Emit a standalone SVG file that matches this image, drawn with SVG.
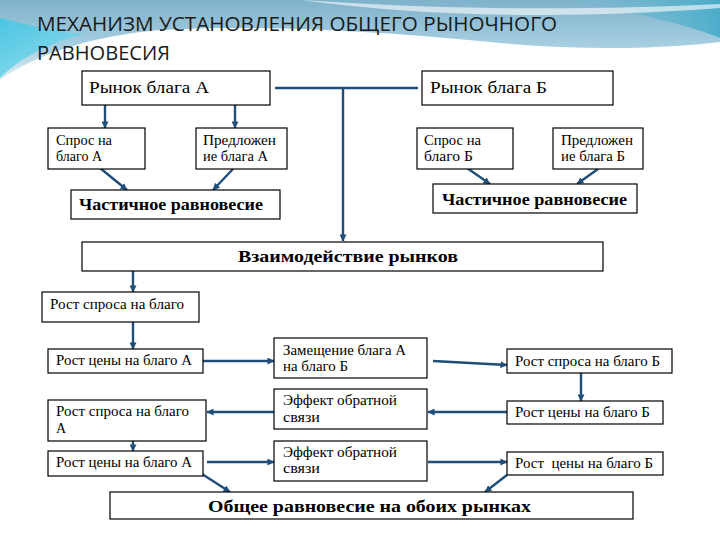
<svg xmlns="http://www.w3.org/2000/svg" width="720" height="540" viewBox="0 0 720 540">
  <defs>
    <linearGradient id="band" x1="0" y1="0" x2="0" y2="1">
      <stop offset="0" stop-color="#7fb2cb"/>
      <stop offset="0.6" stop-color="#a9d0e2"/>
      <stop offset="1" stop-color="#e2f0f6"/>
    </linearGradient>
    <linearGradient id="cyan" x1="0" y1="0" x2="1" y2="1">
      <stop offset="0" stop-color="#3fc6e4"/>
      <stop offset="1" stop-color="#8fdcef"/>
    </linearGradient>
    <linearGradient id="teal" x1="0" y1="0" x2="1" y2="0">
      <stop offset="0" stop-color="#7fc3d8" stop-opacity="0"/>
      <stop offset="1" stop-color="#3aa9c8"/>
    </linearGradient>
    <marker id="arr" viewBox="0 0 8 8" refX="7.5" refY="4" markerWidth="7" markerHeight="7" markerUnits="userSpaceOnUse" orient="auto">
      <path d="M0,0 L8,4 L0,8 Z" fill="#1f4e79"/>
    </marker>
    <style>
      .box { fill: #ffffff; stroke: #000000; stroke-width: 1.2; }
      .t { font-family: "Liberation Serif", "DejaVu Serif", serif; fill: #000; }
      .big { font-size: 17px; }
      .sm { font-size: 14px; }
      .b { font-weight: bold; font-size: 17px; }
      .title { font-family: "Open Sans", "Liberation Sans", sans-serif; font-size: 20px; fill: #1a1a1a; }
      .c line { stroke: #1f4e79; stroke-width: 2.4; fill: none; }
      .c .a { marker-end: url(#arr); }
    </style>
  </defs>

  <!-- background -->
  <rect x="0" y="0" width="720" height="540" fill="#ffffff"/>
  <path d="M0,0 H720 V42 C650,50 570,50 490,42 C390,32 260,24 160,30 C90,36 35,55 0,80 Z" fill="url(#band)"/>
  <path d="M0,18 C25,24 55,32 85,34 C50,42 20,58 0,78 Z" fill="url(#cyan)" opacity="0.85"/>
  <path d="M540,0 H720 V38 C680,22 620,8 540,0 Z" fill="url(#teal)" opacity="0.8"/>
  <path d="M300,0 C420,8 560,12 720,4 V8 C560,20 420,16 300,0 Z" fill="#ffffff" opacity="0.6"/>

  <!-- title -->
  <text class="title" x="37" y="31" textLength="520" lengthAdjust="spacingAndGlyphs">МЕХАНИЗМ УСТАНОВЛЕНИЯ ОБЩЕГО РЫНОЧНОГО</text>
  <text class="title" x="37" y="60" textLength="133" lengthAdjust="spacingAndGlyphs">РАВНОВЕСИЯ</text>

  <!-- connectors -->
  <g id="connectors" class="c">
    <line class="a" x1="105" y1="105" x2="105" y2="128"/>
    <line class="a" x1="235" y1="105" x2="235" y2="128"/>
    <line x1="275" y1="88" x2="418" y2="88"/>
    <line class="a" x1="343" y1="88" x2="343" y2="241"/>
    <line class="a" x1="100" y1="168" x2="127" y2="190"/>
    <line class="a" x1="233" y1="169" x2="213" y2="190"/>
    <line class="a" x1="467" y1="168" x2="490" y2="184"/>
    <line class="a" x1="598" y1="169" x2="577" y2="184"/>
    <line class="a" x1="133" y1="271" x2="133" y2="292"/>
    <line class="a" x1="133" y1="322" x2="133" y2="349"/>
    <line class="a" x1="203" y1="361" x2="274" y2="361"/>
    <line class="a" x1="433" y1="361" x2="507" y2="365"/>
    <line class="a" x1="581" y1="373" x2="581" y2="401"/>
    <line class="a" x1="507" y1="412" x2="428" y2="412"/>
    <line class="a" x1="274" y1="412" x2="207" y2="412"/>
    <line class="a" x1="133" y1="423" x2="133" y2="451"/>
    <line class="a" x1="207" y1="462" x2="274" y2="462"/>
    <line class="a" x1="428" y1="462" x2="507" y2="462"/>
    <line class="a" x1="202" y1="474" x2="230" y2="492"/>
    <line class="a" x1="507" y1="475" x2="485" y2="492"/>
  </g>

  <!-- nodes -->
  <g id="market-a">
    <rect class="box" x="82" y="71" width="188" height="34"/>
    <text class="t big" x="89" y="93" textLength="120" lengthAdjust="spacingAndGlyphs">Рынок блага А</text>
  </g>
  <g id="market-b">
    <rect class="box" x="422" y="71" width="191" height="34"/>
    <text class="t big" x="430" y="93" textLength="117" lengthAdjust="spacingAndGlyphs">Рынок блага Б</text>
  </g>
  <g id="demand-a">
    <rect class="box" x="48" y="128" width="97" height="41"/>
    <text class="t sm" x="56" y="145" textLength="56" lengthAdjust="spacingAndGlyphs">Спрос на</text>
    <text class="t sm" x="56" y="161" textLength="46" lengthAdjust="spacingAndGlyphs">благо А</text>
  </g>
  <g id="supply-a">
    <rect class="box" x="196" y="128" width="91" height="41"/>
    <text class="t sm" x="203" y="145" textLength="73" lengthAdjust="spacingAndGlyphs">Предложен</text>
    <text class="t sm" x="203" y="161" textLength="65" lengthAdjust="spacingAndGlyphs">ие блага А</text>
  </g>
  <g id="demand-b">
    <rect class="box" x="417" y="128" width="96" height="41"/>
    <text class="t sm" x="424" y="145" textLength="57" lengthAdjust="spacingAndGlyphs">Спрос на</text>
    <text class="t sm" x="424" y="161" textLength="49" lengthAdjust="spacingAndGlyphs">благо Б</text>
  </g>
  <g id="supply-b">
    <rect class="box" x="553" y="128" width="90" height="41"/>
    <text class="t sm" x="561" y="145" textLength="72" lengthAdjust="spacingAndGlyphs">Предложен</text>
    <text class="t sm" x="561" y="161" textLength="64" lengthAdjust="spacingAndGlyphs">ие блага Б</text>
  </g>
  <g id="partial-a">
    <rect class="box" x="71" y="190" width="209" height="29"/>
    <text class="t b" x="79" y="210" textLength="184" lengthAdjust="spacingAndGlyphs">Частичное равновесие</text>
  </g>
  <g id="partial-b">
    <rect class="box" x="433" y="184" width="204" height="29"/>
    <text class="t b" x="442" y="205" textLength="185" lengthAdjust="spacingAndGlyphs">Частичное равновесие</text>
  </g>
  <g id="interaction">
    <rect class="box" x="82" y="242" width="521" height="29"/>
    <text class="t b" x="238" y="262" textLength="220" lengthAdjust="spacingAndGlyphs">Взаимодействие рынков</text>
  </g>
  <g id="demand-growth">
    <rect class="box" x="42" y="292" width="157" height="30"/>
    <text class="t sm" x="50" y="309" textLength="134" lengthAdjust="spacingAndGlyphs">Рост спроса на благо</text>
  </g>
  <g id="price-a1">
    <rect class="box" x="48" y="349" width="155" height="24"/>
    <text class="t sm" x="56" y="365" textLength="136" lengthAdjust="spacingAndGlyphs">Рост цены на благо А</text>
  </g>
  <g id="substitution">
    <rect class="box" x="274" y="338" width="153" height="40"/>
    <text class="t sm" x="283" y="355" textLength="123" lengthAdjust="spacingAndGlyphs">Замещение блага А</text>
    <text class="t sm" x="283" y="371" textLength="65" lengthAdjust="spacingAndGlyphs">на благо Б</text>
  </g>
  <g id="demand-b-growth">
    <rect class="box" x="507" y="349" width="165" height="24"/>
    <text class="t sm" x="515" y="366" textLength="145" lengthAdjust="spacingAndGlyphs">Рост спроса на благо Б</text>
  </g>
  <g id="price-b1">
    <rect class="box" x="507" y="401" width="156" height="23"/>
    <text class="t sm" x="515" y="417" textLength="135" lengthAdjust="spacingAndGlyphs">Рост цены на благо Б</text>
  </g>
  <g id="feedback-1">
    <rect class="box" x="274" y="389" width="153" height="40"/>
    <text class="t sm" x="283" y="405" textLength="114" lengthAdjust="spacingAndGlyphs">Эффект обратной</text>
    <text class="t sm" x="283" y="422" textLength="37" lengthAdjust="spacingAndGlyphs">связи</text>
  </g>
  <g id="demand-a-growth">
    <rect class="box" x="48" y="400" width="158" height="41"/>
    <text class="t sm" x="56" y="416" textLength="133" lengthAdjust="spacingAndGlyphs">Рост спроса на благо</text>
    <text class="t sm" x="56" y="433">А</text>
  </g>
  <g id="price-a2">
    <rect class="box" x="48" y="451" width="155" height="25"/>
    <text class="t sm" x="56" y="467" textLength="136" lengthAdjust="spacingAndGlyphs">Рост цены на благо А</text>
  </g>
  <g id="feedback-2">
    <rect class="box" x="274" y="441" width="153" height="40"/>
    <text class="t sm" x="283" y="457" textLength="114" lengthAdjust="spacingAndGlyphs">Эффект обратной</text>
    <text class="t sm" x="283" y="473" textLength="37" lengthAdjust="spacingAndGlyphs">связи</text>
  </g>
  <g id="price-b2">
    <rect class="box" x="507" y="452" width="156" height="23"/>
    <text class="t sm" x="515" y="468" textLength="138" lengthAdjust="spacingAndGlyphs" xml:space="preserve">Рост  цены на благо Б</text>
  </g>
  <g id="general">
    <rect class="box" x="110" y="492" width="523" height="27"/>
    <text class="t b" x="208" y="512" textLength="323" lengthAdjust="spacingAndGlyphs">Общее равновесие на обоих рынках</text>
  </g>
</svg>
